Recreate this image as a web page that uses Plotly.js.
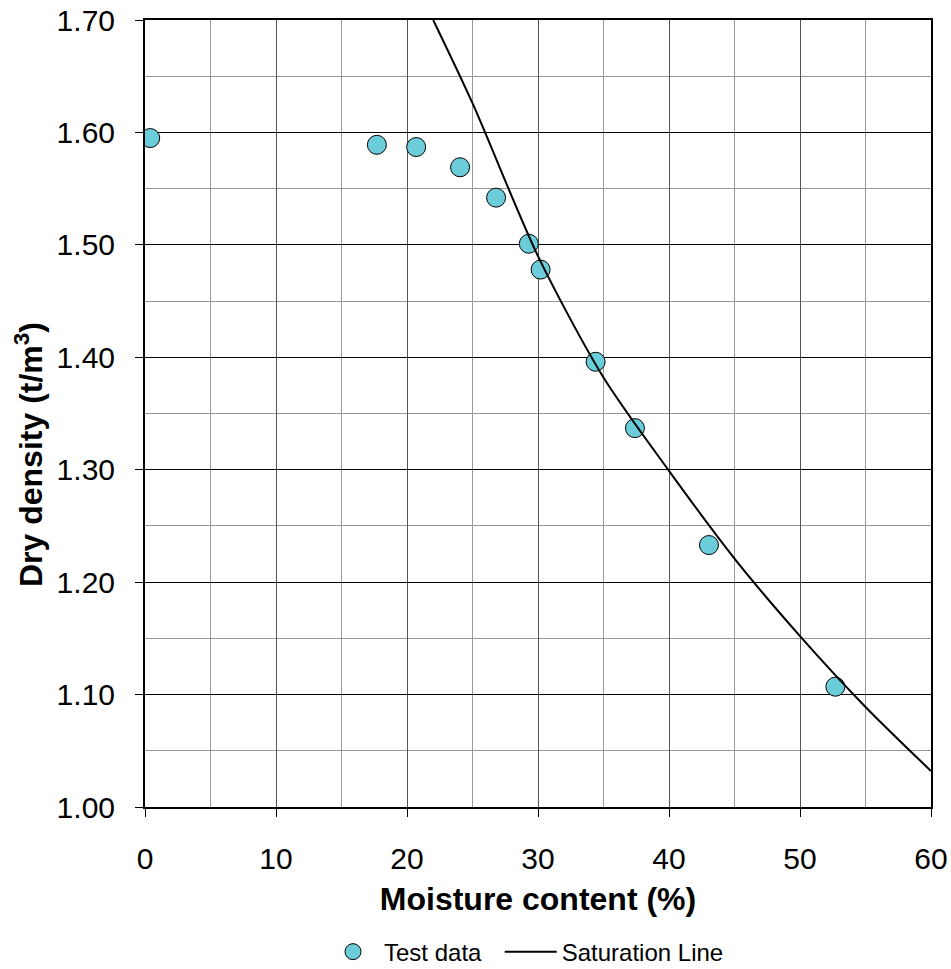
<!DOCTYPE html>
<html>
<head>
<meta charset="utf-8">
<script src="https://cdn.plot.ly/plotly-3.0.1.min.js"></script>
<style>html,body{margin:0;padding:0;background:#fff;}#chart{width:951px;height:969px;}</style>
</head>
<body>
<div id="chart"></div>
<script>
// Test data
const moisture = [0.4, 17.7, 20.7, 24.05, 26.8, 29.3, 30.2, 34.4, 37.4, 43.05, 52.7];
const dryDensity = [1.595, 1.589, 1.587, 1.569, 1.542, 1.501, 1.478, 1.396, 1.337, 1.233, 1.107];
// Saturation line points
const satMoisture = [22.0, 25, 30, 35, 40, 45, 50, 55, 60];
const satDensity = [1.700, 1.626, 1.490, 1.382, 1.299, 1.221, 1.152, 1.089, 1.032];

const font = "'Liberation Sans', Arial, sans-serif";

const traces = [
  {
    x: moisture, y: dryDensity, type: 'scatter', mode: 'markers', name: 'Test data\u00a0\u00a0',
    marker: {size: 19, color: '#6BCCDA', line: {color: '#000', width: 1}}
  },
  {
    x: satMoisture, y: satDensity, type: 'scatter', mode: 'lines', name: 'Saturation Line',
    line: {color: '#000', width: 2, shape: 'spline', smoothing: 0.8}
  }
];

const layout = {
  width: 951, height: 969,
  margin: {l: 145, r: 20, t: 20, b: 162, autoexpand: false},
  paper_bgcolor: '#fff', plot_bgcolor: '#fff',
  font: {family: font, color: '#000'},
  showlegend: true,
  legend: {orientation: 'h', x: 0.3386, xanchor: 'left', xref: 'container',
           y: 0.0175, yanchor: 'middle', yref: 'container',
           font: {size: 24, family: font}, itemwidth: 52},
  annotations: [{
    text: '<b>Dry density (t/m<sup>3</sup>)</b>', textangle: -90,
    xref: 'paper', yref: 'paper', x: -0.1476, y: 0.4485,
    xanchor: 'center', yanchor: 'middle', showarrow: false,
    font: {size: 32, family: font, color: '#000'}
  }],
  xaxis: {
    range: [0, 60], dtick: 10, tick0: 0,
    showline: true, linecolor: '#000', linewidth: 2, mirror: true,
    ticks: 'outside', ticklen: 8, tickcolor: '#000', tickwidth: 1,
    ticklabelstandoff: 16,
    showgrid: true, gridcolor: '#555', gridwidth: 1,
    zeroline: false,
    minor: {dtick: 5, showgrid: true, gridcolor: '#999', gridwidth: 1, ticks: ''},
    tickfont: {size: 30, family: font},
    title: {text: '<b>Moisture content (%)</b>', font: {size: 32, family: font}, standoff: 14}
  },
  yaxis: {
    range: [1.0, 1.7], dtick: 0.1, tick0: 1.0, tickformat: '.2f',
    showline: true, linecolor: '#000', linewidth: 2, mirror: true,
    ticks: 'outside', ticklen: 8, tickcolor: '#000', tickwidth: 1,
    ticklabelstandoff: 14,
    showgrid: true, gridcolor: '#000', gridwidth: 1,
    zeroline: false,
    minor: {dtick: 0.05, showgrid: true, gridcolor: '#999', gridwidth: 1, ticks: ''},
    tickfont: {size: 30, family: font}
  }
};

Plotly.newPlot('chart', traces, layout, {displayModeBar: false, staticPlot: true});
</script>
</body>
</html>
